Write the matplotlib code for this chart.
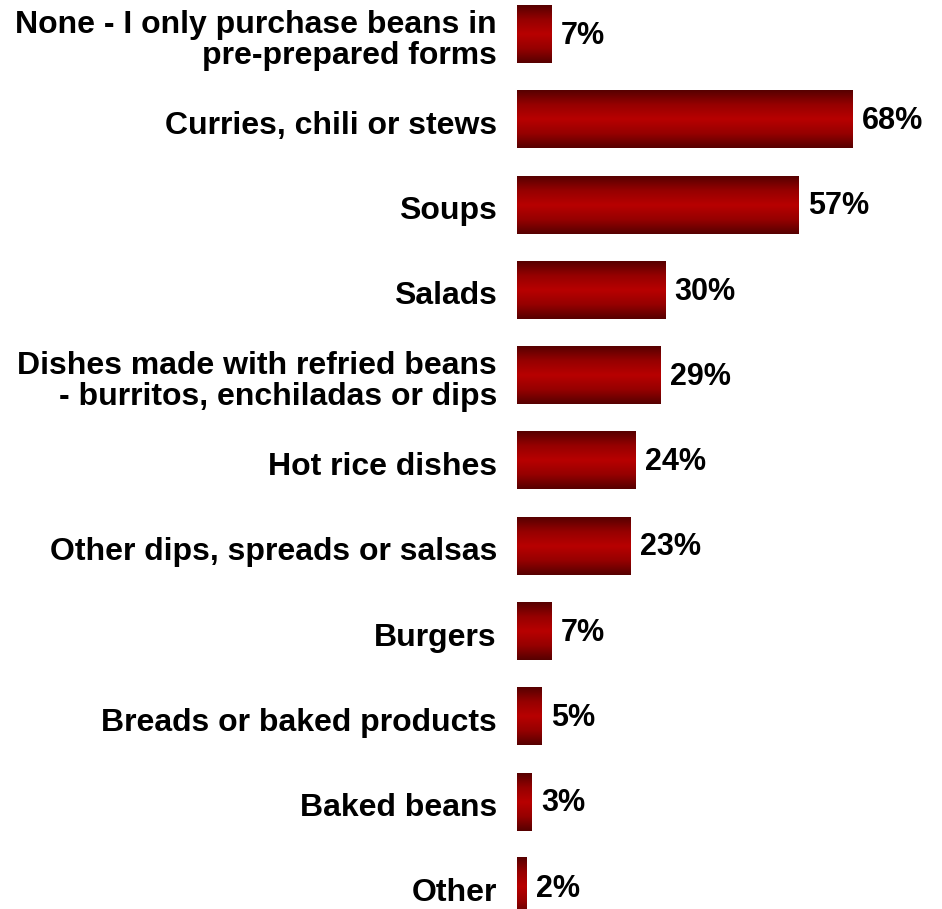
import numpy as np
import matplotlib
matplotlib.use("Agg")
import matplotlib.pyplot as plt
from matplotlib.colors import LinearSegmentedColormap
from matplotlib.transforms import ScaledTranslation

categories = [
    "None - I only purchase beans in\npre-prepared forms",
    "Curries, chili or stews",
    "Soups",
    "Salads",
    "Dishes made with refried beans\n- burritos, enchiladas or dips",
    "Hot rice dishes",
    "Other dips, spreads or salsas",
    "Burgers",
    "Breads or baked products",
    "Baked beans",
    "Other",
]
values = [7, 68, 57, 30, 29, 24, 23, 7, 5, 3, 2]

plt.rcParams["font.family"] = ["Liberation Sans", "DejaVu Sans"]
plt.rcParams["font.weight"] = "bold"

# vertical shading: dark edges, bright red middle
bar_cmap = LinearSegmentedColormap.from_list(
    "bar_shade", ["#560000", "#960000", "#b80000", "#960000", "#560000"])
shade = np.linspace(0, 1, 256).reshape(-1, 1)

fig = plt.figure(figsize=(9.42, 9.09), dpi=100)
ax = fig.add_axes([517 / 942, 0, 385 / 942, 1])

bar_h = 0.68
y = np.arange(len(values))
for yi, v in zip(y, values):
    ax.imshow(shade, cmap=bar_cmap, aspect="auto", interpolation="bilinear",
              extent=(0, v, yi + bar_h / 2, yi - bar_h / 2), zorder=2)
    ax.text(v + 1.9, yi + 0.02, f"{v}%", va="center", ha="left",
            fontsize=22, fontweight="bold", color="black")

# category names, right-aligned left of the bars and a touch below centre
name_tf = ax.get_yaxis_transform() + ScaledTranslation(-0.20, -0.065, fig.dpi_scale_trans)
for yi, name in zip(y, categories):
    ax.text(0, yi, name, transform=name_tf, ha="right", va="center",
            multialignment="right", linespacing=1.03,
            fontsize=23, fontweight="bold", color="black", clip_on=False)

ax.set_xlim(0, 78)
ax.set_ylim(10.26, -0.4)
ax.set_xticks([])
ax.set_yticks([])
for s in ax.spines.values():
    s.set_visible(False)

fig.savefig("out.png", dpi=100)
